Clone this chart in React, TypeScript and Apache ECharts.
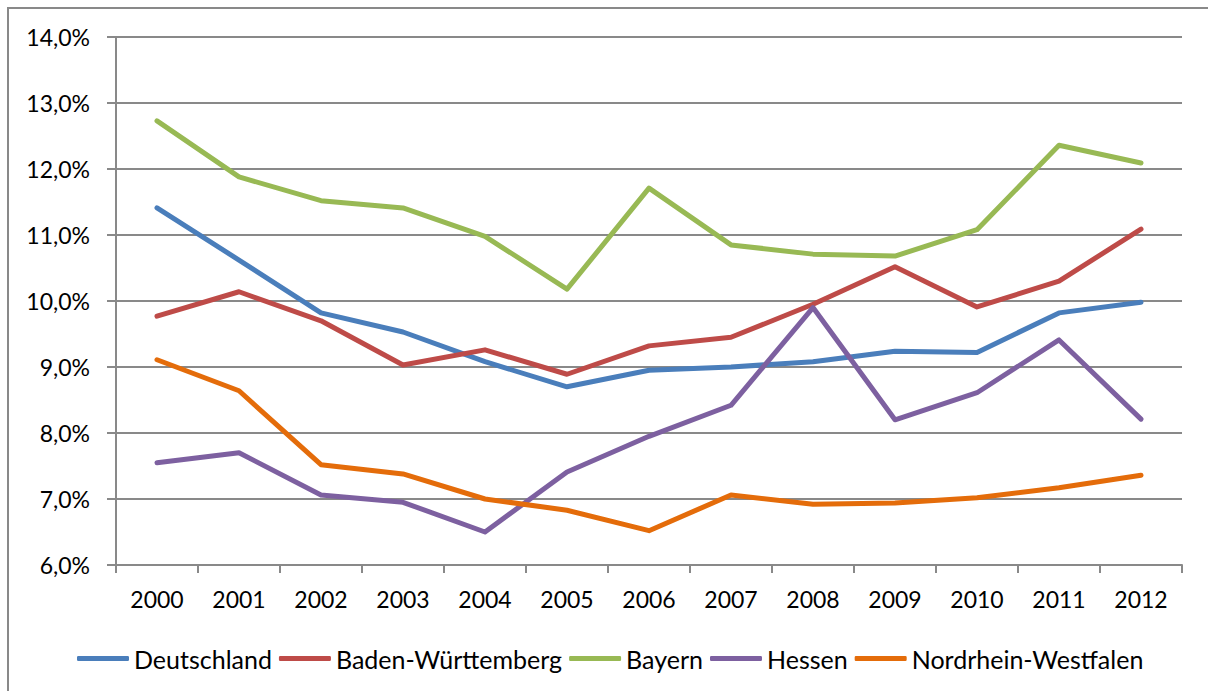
import React, { useEffect, useRef } from "react";
import * as echarts from "echarts";

const years = ["2000","2001","2002","2003","2004","2005","2006","2007","2008","2009","2010","2011","2012"];
const deutschland = [11.41, 10.62, 9.82, 9.53, 9.08, 8.70, 8.95, 9.00, 9.08, 9.24, 9.22, 9.82, 9.98];
const badenWuerttemberg = [9.77, 10.14, 9.70, 9.03, 9.26, 8.89, 9.32, 9.45, 9.95, 10.52, 9.91, 10.30, 11.09];
const bayern = [12.73, 11.88, 11.52, 11.41, 10.98, 10.18, 11.71, 10.85, 10.71, 10.68, 11.08, 12.36, 12.09];
const hessen = [7.55, 7.70, 7.06, 6.95, 6.50, 7.41, 7.95, 8.42, 9.90, 8.20, 8.61, 9.41, 8.21];
const nrw = [9.11, 8.64, 7.52, 7.38, 7.00, 6.83, 6.52, 7.06, 6.92, 6.94, 7.02, 7.17, 7.36];

const seriesNames = ["Deutschland", "Baden-Württemberg", "Bayern", "Hessen", "Nordrhein-Westfalen"];
const seriesData = [deutschland, badenWuerttemberg, bayern, hessen, nrw];
const colors = ["#4A7EBB", "#BE4B48", "#98B954", "#7D60A0", "#E46C0A"];

const FONT = "Lato, 'Open Sans', sans-serif";
const GRAY = "#898989";

export default function App() {
  const ref = useRef<HTMLDivElement>(null);
  useEffect(() => {
    if (!ref.current) return;
    const chart = echarts.init(ref.current, undefined, { renderer: "svg" });
    chart.setOption({
      animation: false,
      color: colors,
      textStyle: { fontFamily: FONT },
      graphic: [
        {
          type: "rect",
          shape: { x: 8, y: 8, width: 1220, height: 700 },
          style: { fill: "none", stroke: GRAY, lineWidth: 2 },
          silent: true,
        },
      ],
      grid: { left: 116, right: 26, top: 37, bottom: 126, containLabel: false },
      legend: {
        data: seriesNames,
        top: 641,
        left: 72,
        icon: "roundRect",
        itemWidth: 52,
        itemHeight: 5,
        itemGap: 7,
        textStyle: { fontSize: 25, color: "#000", fontFamily: FONT, padding: [0, 0, 0, 0] },
      },
      xAxis: {
        type: "category",
        data: years,
        boundaryGap: true,
        axisLine: { lineStyle: { color: GRAY, width: 2 } },
        axisTick: { show: true, interval: 0, length: 8, lineStyle: { color: GRAY, width: 2 } },
        axisLabel: { fontSize: 23, color: "#000", margin: 22, fontFamily: FONT, interval: 0 },
        splitLine: { show: false },
      },
      yAxis: {
        type: "value",
        min: 6,
        max: 14,
        interval: 1,
        axisLine: { show: true, lineStyle: { color: GRAY, width: 2 } },
        axisTick: { show: true, length: 9, lineStyle: { color: GRAY, width: 2 } },
        axisLabel: {
          fontSize: 23,
          color: "#000",
          margin: 26,
          fontFamily: FONT,
          formatter: (v: number) => v.toFixed(1).replace(".", ",") + "%",
        },
        splitLine: { show: true, lineStyle: { color: GRAY, width: 2 } },
      },
      series: seriesNames.map((name, i) => ({
        name,
        type: "line",
        data: seriesData[i],
        showSymbol: false,
        symbol: "none",
        lineStyle: { width: 5, color: colors[i], cap: "round", join: "round" },
      })),
    });
    return () => chart.dispose();
  }, []);
  return (
    <div
      ref={ref}
      style={{ position: "absolute", left: 0, top: 0, width: 1208, height: 691, overflow: "hidden" }}
    />
  );
}
